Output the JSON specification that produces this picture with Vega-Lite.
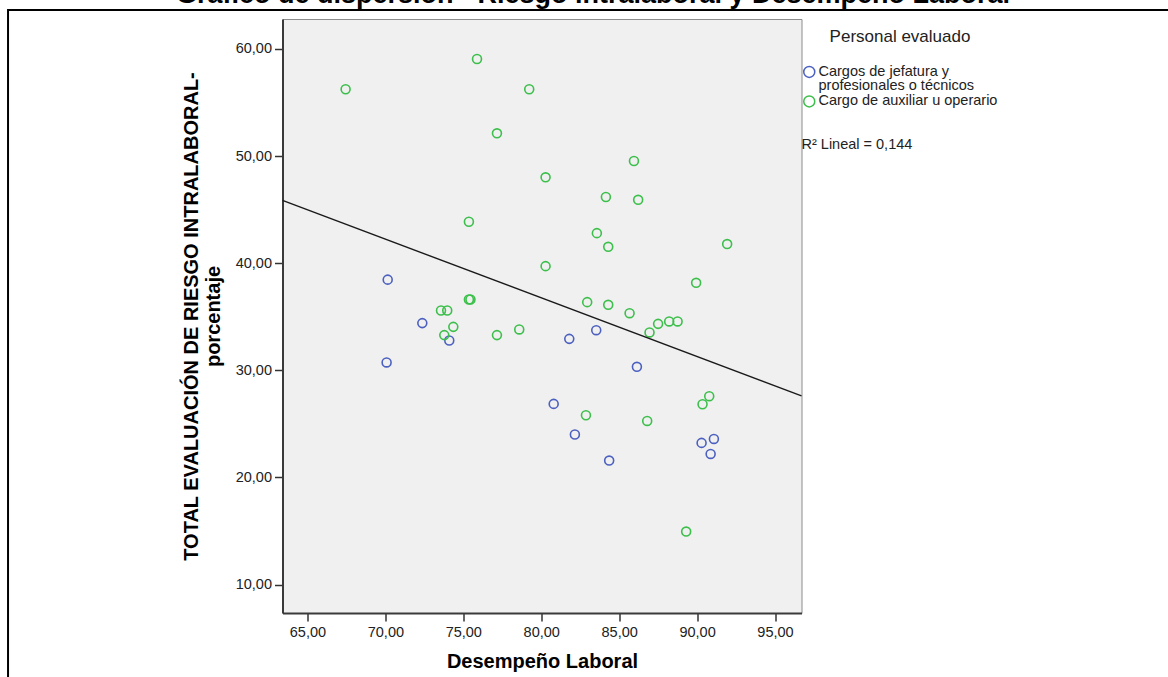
{
  "$schema": "https://vega.github.io/schema/vega-lite/v6.json",
  "width": 519,
  "height": 594,
  "autosize": {"type": "none"},
  "padding": {"left": 282.5, "top": 19, "right": 366.5, "bottom": 64},
  "background": "white",
  "title": {
    "text": "Gráfico de dispersión - Riesgo intralaboral y Desempeño Laboral",
    "font": "Liberation Sans",
    "fontSize": 27,
    "fontWeight": "bold",
    "color": "#000000",
    "anchor": "middle",
    "dx": 51,
    "offset": 0
  },
  "config": {
    "font": "Liberation Sans",
    "view": {"fill": "#f0f0f0", "stroke": "#8c8c8c", "strokeWidth": 1},
    "style": {"guide-label": {"lineHeight": 14.3}},
    "axis": {
      "titleFont": "Liberation Sans",
      "titleFontSize": 20,
      "titleFontWeight": "bold",
      "titleColor": "#000000",
      "labelFont": "Liberation Sans",
      "labelFontSize": 14.5,
      "labelColor": "#222222",
      "tickSize": 8,
      "tickColor": "#333333",
      "tickWidth": 1.5,
      "domainColor": "#3a3a3a",
      "domainWidth": 2,
      "grid": false
    },
    "axisX": {"titlePadding": 13, "labelPadding": 4},
    "axisY": {"titlePadding": 12, "titleLineHeight": 22, "labelPadding": 3}
  },
  "datasets": {
    "puntos": [
      {"personal": "Cargos de jefatura y profesionales o técnicos", "desempeno": 70.15, "riesgo": 38.47},
      {"personal": "Cargos de jefatura y profesionales o técnicos", "desempeno": 72.37, "riesgo": 34.41},
      {"personal": "Cargos de jefatura y profesionales o técnicos", "desempeno": 74.10, "riesgo": 32.79},
      {"personal": "Cargos de jefatura y profesionales o técnicos", "desempeno": 70.08, "riesgo": 30.74},
      {"personal": "Cargos de jefatura y profesionales o técnicos", "desempeno": 81.80, "riesgo": 32.94},
      {"personal": "Cargos de jefatura y profesionales o técnicos", "desempeno": 83.53, "riesgo": 33.75},
      {"personal": "Cargos de jefatura y profesionales o técnicos", "desempeno": 86.14, "riesgo": 30.33},
      {"personal": "Cargos de jefatura y profesionales o técnicos", "desempeno": 80.80, "riesgo": 26.87},
      {"personal": "Cargos de jefatura y profesionales o técnicos", "desempeno": 82.16, "riesgo": 24.01},
      {"personal": "Cargos de jefatura y profesionales o técnicos", "desempeno": 84.36, "riesgo": 21.58},
      {"personal": "Cargos de jefatura y profesionales o técnicos", "desempeno": 90.29, "riesgo": 23.23},
      {"personal": "Cargos de jefatura y profesionales o técnicos", "desempeno": 91.08, "riesgo": 23.60},
      {"personal": "Cargos de jefatura y profesionales o técnicos", "desempeno": 90.87, "riesgo": 22.20},
      {"personal": "Cargo de auxiliar u operario", "desempeno": 67.45, "riesgo": 56.24},
      {"personal": "Cargo de auxiliar u operario", "desempeno": 75.88, "riesgo": 59.07},
      {"personal": "Cargo de auxiliar u operario", "desempeno": 79.23, "riesgo": 56.24},
      {"personal": "Cargo de auxiliar u operario", "desempeno": 77.16, "riesgo": 52.13},
      {"personal": "Cargo de auxiliar u operario", "desempeno": 80.28, "riesgo": 48.02},
      {"personal": "Cargo de auxiliar u operario", "desempeno": 75.36, "riesgo": 43.87},
      {"personal": "Cargo de auxiliar u operario", "desempeno": 80.28, "riesgo": 39.73},
      {"personal": "Cargo de auxiliar u operario", "desempeno": 75.36, "riesgo": 36.62},
      {"personal": "Cargo de auxiliar u operario", "desempeno": 75.46, "riesgo": 36.62},
      {"personal": "Cargo de auxiliar u operario", "desempeno": 73.57, "riesgo": 35.59},
      {"personal": "Cargo de auxiliar u operario", "desempeno": 73.97, "riesgo": 35.59},
      {"personal": "Cargo de auxiliar u operario", "desempeno": 85.95, "riesgo": 49.54},
      {"personal": "Cargo de auxiliar u operario", "desempeno": 84.15, "riesgo": 46.18},
      {"personal": "Cargo de auxiliar u operario", "desempeno": 86.22, "riesgo": 45.92},
      {"personal": "Cargo de auxiliar u operario", "desempeno": 83.57, "riesgo": 42.81},
      {"personal": "Cargo de auxiliar u operario", "desempeno": 84.30, "riesgo": 41.53},
      {"personal": "Cargo de auxiliar u operario", "desempeno": 91.93, "riesgo": 41.79},
      {"personal": "Cargo de auxiliar u operario", "desempeno": 89.94, "riesgo": 38.17},
      {"personal": "Cargo de auxiliar u operario", "desempeno": 82.95, "riesgo": 36.37},
      {"personal": "Cargo de auxiliar u operario", "desempeno": 84.30, "riesgo": 36.12},
      {"personal": "Cargo de auxiliar u operario", "desempeno": 85.67, "riesgo": 35.34},
      {"personal": "Cargo de auxiliar u operario", "desempeno": 87.50, "riesgo": 34.34},
      {"personal": "Cargo de auxiliar u operario", "desempeno": 88.21, "riesgo": 34.57},
      {"personal": "Cargo de auxiliar u operario", "desempeno": 88.75, "riesgo": 34.57},
      {"personal": "Cargo de auxiliar u operario", "desempeno": 86.95, "riesgo": 33.54},
      {"personal": "Cargo de auxiliar u operario", "desempeno": 74.36, "riesgo": 34.06},
      {"personal": "Cargo de auxiliar u operario", "desempeno": 73.78, "riesgo": 33.29},
      {"personal": "Cargo de auxiliar u operario", "desempeno": 77.16, "riesgo": 33.29},
      {"personal": "Cargo de auxiliar u operario", "desempeno": 78.59, "riesgo": 33.82},
      {"personal": "Cargo de auxiliar u operario", "desempeno": 82.87, "riesgo": 25.81},
      {"personal": "Cargo de auxiliar u operario", "desempeno": 86.80, "riesgo": 25.28},
      {"personal": "Cargo de auxiliar u operario", "desempeno": 90.78, "riesgo": 27.59},
      {"personal": "Cargo de auxiliar u operario", "desempeno": 90.35, "riesgo": 26.84},
      {"personal": "Cargo de auxiliar u operario", "desempeno": 89.30, "riesgo": 14.95}
    ],
    "ajuste": [
      {"desempeno": 63.4, "riesgo": 45.87},
      {"desempeno": 96.7, "riesgo": 27.62}
    ],
    "anotacion": [
      {"etiqueta": "R² Lineal = 0,144"}
    ],
    "marco": [
      {"elemento": "marco"}
    ]
  },
  "layer": [
    {
      "data": {"name": "puntos"},
      "mark": {"type": "point", "shape": "circle", "filled": false, "size": 80, "strokeWidth": 1.6, "opacity": 1},
      "encoding": {
        "x": {
          "field": "desempeno",
          "type": "quantitative",
          "scale": {"domain": [63.4, 96.7], "nice": false, "zero": false},
          "axis": {"title": "Desempeño Laboral", "values": [65, 70, 75, 80, 85, 90, 95], "labelExpr": "replace(format(datum.value, '.2f'), '.', ',')"}
        },
        "y": {
          "field": "riesgo",
          "type": "quantitative",
          "scale": {"domain": [7.35, 62.8], "nice": false, "zero": false},
          "axis": {"title": ["TOTAL EVALUACIÓN DE RIESGO INTRALABORAL-", "porcentaje"], "values": [10, 20, 30, 40, 50, 60], "labelExpr": "replace(format(datum.value, '.2f'), '.', ',')"}
        },
        "color": {
          "field": "personal",
          "type": "nominal",
          "scale": {
            "domain": ["Cargos de jefatura y profesionales o técnicos", "Cargo de auxiliar u operario"],
            "range": ["#4b60c0", "#3cbf4b"]
          },
          "legend": {
            "orient": "none",
            "legendX": 519.5,
            "legendY": 10,
            "title": "Personal evaluado",
            "titleAnchor": "middle",
            "titleFont": "Liberation Sans",
            "titleFontSize": 17,
            "titleFontWeight": "normal",
            "titleColor": "#222222",
            "titlePadding": 18.7,
            "labelFont": "Liberation Sans",
            "labelFontSize": 14.5,
            "labelColor": "#222222",
            "labelLimit": 400,
            "labelOffset": 2,
            "rowPadding": -1.5,
            "symbolType": "circle",
            "symbolSize": 121,
            "symbolStrokeWidth": 1.5,
            "symbolFillColor": "transparent",
            "labelExpr": "datum.value == 'Cargos de jefatura y profesionales o técnicos' ? ['Cargos de jefatura y', 'profesionales o técnicos'] : datum.label"
          }
        }
      }
    },
    {
      "data": {"name": "ajuste"},
      "mark": {"type": "line", "color": "#1a1a1a", "strokeWidth": 1.4},
      "encoding": {
        "x": {"field": "desempeno", "type": "quantitative", "axis": {"title": "Desempeño Laboral", "values": [65, 70, 75, 80, 85, 90, 95], "labelExpr": "replace(format(datum.value, '.2f'), '.', ',')"}},
        "y": {"field": "riesgo", "type": "quantitative", "axis": {"title": ["TOTAL EVALUACIÓN DE RIESGO INTRALABORAL-", "porcentaje"], "values": [10, 20, 30, 40, 50, 60], "labelExpr": "replace(format(datum.value, '.2f'), '.', ',')"}}
      }
    },
    {
      "data": {"name": "anotacion"},
      "mark": {"type": "text", "align": "left", "baseline": "middle", "font": "Liberation Sans", "fontSize": 14.5, "color": "#222222", "clip": false},
      "encoding": {
        "x": {"datum": 96.7, "type": "quantitative", "axis": {"title": "Desempeño Laboral", "values": [65, 70, 75, 80, 85, 90, 95], "labelExpr": "replace(format(datum.value, '.2f'), '.', ',')"}},
        "y": {"datum": 51.03, "type": "quantitative", "axis": {"title": ["TOTAL EVALUACIÓN DE RIESGO INTRALABORAL-", "porcentaje"], "values": [10, 20, 30, 40, 50, 60], "labelExpr": "replace(format(datum.value, '.2f'), '.', ',')"}},
        "text": {"field": "etiqueta", "type": "nominal"}
      }
    },
    {
      "data": {"name": "marco"},
      "mark": {"type": "rect", "filled": false, "stroke": "#000000", "strokeWidth": 2, "clip": false},
      "encoding": {
        "x": {"datum": 45.79, "type": "quantitative", "axis": {"title": "Desempeño Laboral", "values": [65, 70, 75, 80, 85, 90, 95], "labelExpr": "replace(format(datum.value, '.2f'), '.', ',')"}},
        "x2": {"datum": 125},
        "y": {"datum": 63.64, "type": "quantitative", "axis": {"title": ["TOTAL EVALUACIÓN DE RIESGO INTRALABORAL-", "porcentaje"], "values": [10, 20, 30, 40, 50, 60], "labelExpr": "replace(format(datum.value, '.2f'), '.', ',')"}},
        "y2": {"datum": -5}
      }
    }
  ]
}
